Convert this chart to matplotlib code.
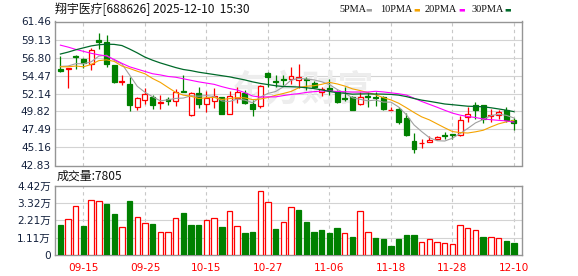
import numpy as np
import matplotlib
matplotlib.use("Agg")
import matplotlib.pyplot as plt

plt.rcParams['font.family'] = ['DejaVu Sans', 'Noto Sans CJK SC']

# daily candles, 2025-09-10 .. 2025-12-10
opens = [55.25, 55.25, 57.05, 56.6, 55.9, 59.05, 58.75, 55.8, 53.65, 53.4,
         50.4, 51.35, 51.7, 50.95, 51.4, 51.15, 52.5, 49.3, 52.2, 50.8,
         51.15, 51.72, 49.5, 51.6, 52.2, 50.8, 50.5, 54.8, 53.8, 54.05,
         54.0, 53.83, 53.97, 53.5, 52.28, 52.8, 52.3, 51.55, 51.65, 50.77,
         51.8, 51.75, 51.67, 49.98, 50.1, 48.95, 45.95, 45.7, 45.85, 46.25,
         46.75, 46.85, 46.8, 49.08, 50.7, 50.6, 49.2, 49.3, 50.05, 48.7]
highs = [56.98, 55.45, 57.1, 56.72, 58.0, 59.95, 59.65, 55.8, 54.48, 54.26,
         51.75, 52.85, 51.9, 51.98, 51.7, 52.75, 54.5, 52.35, 53.05, 52.45,
         52.88, 51.75, 52.45, 53.05, 52.62, 51.25, 53.2, 54.9, 54.48, 54.6,
         55.6, 56.0, 54.26, 53.7, 53.05, 54.0, 52.62, 53.05, 51.85, 52.4,
         52.4, 52.4, 51.85, 50.38, 50.38, 49.6, 47.0, 46.3, 46.6, 46.7,
         47.1, 46.88, 49.2, 50.42, 51.0, 50.6, 50.1, 50.0, 50.4, 48.95]
lows = [54.9, 52.9, 55.3, 55.4, 55.2, 57.95, 55.55, 53.5, 53.2, 49.9,
        49.95, 50.8, 50.15, 50.2, 50.7, 50.55, 52.3, 49.25, 50.3, 49.75,
        50.3, 49.45, 49.45, 50.9, 50.8, 49.22, 50.3, 53.05, 53.05, 53.3,
        53.4, 52.84, 52.62, 52.85, 51.85, 51.95, 50.98, 51.2, 49.95, 50.68,
        50.4, 50.55, 50.03, 49.98, 48.22, 46.7, 44.5, 45.1, 45.85, 46.15,
        46.2, 46.2, 46.65, 48.45, 48.85, 48.35, 48.5, 48.85, 48.5, 47.4]
closes = [55.05, 55.42, 56.85, 56.05, 57.8, 58.8, 55.95, 53.6, 53.72, 50.6,
          51.5, 52.1, 50.7, 51.1, 51.23, 52.4, 52.35, 52.2, 50.8, 51.6,
          51.85, 49.5, 51.8, 52.4, 50.9, 50.12, 53.1, 54.25, 53.65, 53.92,
          54.43, 54.26, 53.85, 53.05, 52.71, 52.65, 51.1, 51.45, 50.05, 51.67,
          51.72, 51.6, 50.12, 50.05, 48.5, 46.8, 44.95, 45.78, 46.15, 46.5,
          46.6, 46.8, 48.75, 49.5, 50.05, 48.8, 49.3, 49.7, 48.75, 48.35]
# volume in 万 (10k shares)
volumes = [1.91, 2.29, 3.10, 1.85, 3.51, 3.44, 3.25, 2.61, 1.76, 3.44,
           2.40, 2.02, 1.98, 1.44, 1.44, 2.34, 2.68, 1.91, 1.91, 2.23,
           2.34, 1.78, 2.80, 1.83, 1.40, 1.47, 4.08, 3.38, 1.66, 2.10,
           3.04, 2.87, 2.10, 1.47, 1.59, 1.40, 1.72, 1.38, 1.15, 2.80,
           1.47, 1.08, 1.02, 0.57, 1.02, 1.27, 1.27, 0.83, 1.02, 0.83,
           0.76, 0.70, 1.91, 1.72, 1.59, 1.15, 1.15, 1.08, 0.89, 0.78]

# moving average values before the window fills
ma5_head = [55.65, 55.7, 56.0, 56.0]
ma10_head = [55.6, 55.6, 55.7, 55.6, 55.9, 56.4, 56.5, 56.3, 55.7]
ma20_head = [58.4, 58.15, 57.85, 57.6, 57.35, 57.15, 57.0, 56.55, 56.05, 55.6,
             55.3, 55.0, 54.7, 54.55, 54.35, 54.25, 54.05, 53.85, 53.65]
ma30_head = [57.25, 57.5, 57.8, 58.05, 58.3, 58.45, 58.52, 58.5, 58.35, 57.9,
             57.4, 56.85, 56.45, 56.1, 55.8, 55.5, 55.25, 55.1, 54.9, 54.75,
             54.6, 54.45, 54.3, 54.1, 53.9, 53.65, 53.45, 53.3, 53.15]

date_idx = [3, 11, 19, 27, 35, 43, 51, 59]
date_labels = ['09-15', '09-25', '10-15', '10-27', '11-06', '11-18', '11-28', '12-10']
price_ticks = [42.83, 45.16, 47.49, 49.82, 52.14, 54.47, 56.80, 59.13, 61.46]
vol_ticks = [0, 1.11, 2.21, 3.32, 4.42]
vol_labels = ['0', '1.11万', '2.21万', '3.32万', '4.42万']

RED = '#ff0000'
GREEN = '#008000'
TXT = '#14213d'


def ma(head, n):
    c = np.array(closes)
    return np.r_[head, np.convolve(c, np.ones(n) / n, mode='valid')]


o = np.array(opens); h = np.array(highs); l = np.array(lows); c = np.array(closes)
x = np.arange(len(c))
up = c >= o
vol_up = np.r_[False, np.diff(c) > 0]

W, H = 578, 276
fig = plt.figure(figsize=(W / 100, H / 100), dpi=100)
ax = fig.add_axes([55 / W, (H - 165.5) / H, 467 / W, 144 / H])
axv = fig.add_axes([55 / W, (H - 255) / H, 467 / W, 69.5 / H])

for a in (ax, axv):
    a.set_xlim(-0.7, 60.05)
    for s in a.spines.values():
        s.set_color('#959595')
        s.set_linewidth(1)
    a.tick_params(length=0, labelsize=7.6, colors=TXT, pad=3)
    for i in date_idx:
        a.axvline(i, color='#c8c8c8', lw=0.8, dashes=(3, 3), zorder=0)

# price panel
ax.set_ylim(price_ticks[0], price_ticks[-1])
ax.set_yticks(price_ticks)
ax.set_yticklabels(['%.2f' % t for t in price_ticks])
ax.set_xticks([])
for t in price_ticks[1:-1]:
    ax.axhline(t, color='#d3d3d3', lw=0.8, zorder=0)

ax.text(31.5, 52.55, '东方财富', family='Noto Sans CJK SC', fontsize=26,
        fontweight='bold', color='#ededed', ha='center', va='center', zorder=0.5)

col = np.where(up, RED, GREEN)
ax.vlines(x, l, h, colors=col, lw=0.9, zorder=2)
body = np.maximum(np.abs(c - o), 0.06)
ax.bar(x, body, bottom=np.minimum(o, c), width=0.64,
       color=np.where(up, 'white', GREEN), edgecolor=col, linewidth=0.9, zorder=3)

ax.plot(x, ma(ma5_head, 5), color='#a0a0a0', lw=0.8, zorder=4)
ax.plot(x, ma(ma10_head, 10), color='#f5a300', lw=0.8, zorder=4)
ax.plot(x, ma(ma20_head, 20), color='#ff00ff', lw=0.8, zorder=4)
ax.plot(x, ma(ma30_head, 30), color='#006a2a', lw=0.9, zorder=4)

# volume panel
axv.set_ylim(0, vol_ticks[-1])
axv.set_yticks(vol_ticks)
axv.set_yticklabels(vol_labels)
for t in vol_ticks[1:-1]:
    axv.axhline(t, color='#d3d3d3', lw=0.8, zorder=0)
vcol = np.where(vol_up, RED, GREEN)
axv.bar(x, volumes, width=0.7, color=np.where(vol_up, 'white', GREEN),
        edgecolor=vcol, linewidth=0.9, zorder=3)
axv.set_xticks(date_idx)
axv.set_xticklabels(date_labels, color=RED)
axv.tick_params(axis='x', pad=6)

# header texts
fig.text(55 / W, 1 - 9 / H, '翔宇医疗[688626] 2025-12-10  15:30', fontsize=8.6,
         color='#111111', va='center', family=['Noto Sans CJK SC'])
fig.text(57 / W, 1 - 176 / H, '成交量:7805', fontsize=8.6, color='#111111',
         va='center', family=['Noto Sans CJK SC'])

legend = [('5PMA', '#a0a0a0'), ('10PMA', '#f5a300'), ('20PMA', '#ff00ff'), ('30PMA', '#006a2a')]
lx = [339, 380, 425, 471]
for (name, cl), px in zip(legend, lx):
    fig.text(px / W, 1 - 9 / H, name, fontsize=7.4, color='#111111',
             va='center', family='Liberation Serif')
    fig.text((px + len(name) * 6.2 + 2) / W, 1 - 9 / H, '▬', fontsize=5, color=cl,
             va='center')

fig.savefig('out.png', dpi=100)
